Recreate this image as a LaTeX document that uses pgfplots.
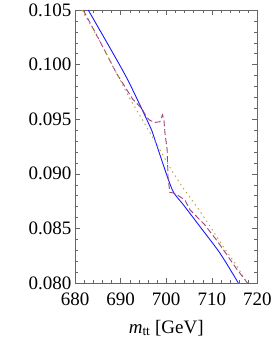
\documentclass[border=0pt]{standalone}
\usepackage{fontspec}
\setmainfont{Liberation Serif}
\usepackage{pgfplots}
\pgfplotsset{compat=1.18}
\definecolor{cblue}{rgb}{0.1,0.1,1}
\definecolor{cmag}{rgb}{0.62,0.25,0.5}
\definecolor{colive}{rgb}{0.72,0.64,0.3}
\begin{document}
\begin{tikzpicture}[x=1pt,y=1pt]
\useasboundingbox (0,0) rectangle (273,343);
\begin{axis}[at={(75pt,60pt)}, anchor=south west, scale only axis,
  width=182.5pt, height=273pt,
  xmin=680, xmax=720, ymin=0.08, ymax=0.105,
  xtick={680,690,700,710,720},
  ytick={0.08,0.085,0.09,0.095,0.1,0.105},
  minor x tick num=4, minor y tick num=4,
  tick align=inside, major tick length=5pt, minor tick length=3pt,
  axis line style={black!60}, every tick/.style={black!60},
  ticklabel style={font=\fontsize{19}{22}\selectfont},
  /pgf/number format/assume math mode=true,
  yticklabel style={/pgf/number format/.cd,fixed,fixed zerofill,precision=3},
  xticklabel style={/pgf/number format/.cd,fixed,precision=0},
  xticklabel shift=6pt,
  xlabel={\textit{m}\textsubscript{tt} [GeV]},
  xlabel style={font=\fontsize{19}{22}\selectfont, yshift=-8pt},
  clip=true,
]
% blue solid
\addplot[cblue, line width=0.9pt, smooth, tension=0.4] coordinates {
(682.9,0.1050) (691.0,0.09905) (695.7,0.0950) (696.8,0.0940) (700.1,0.0899)
(701.6,0.0883) (703.8,0.08714) (707.4,0.08516) (711.8,0.08272) (715.8,0.0800)
};
% magenta dashed
\addplot[cmag, line width=0.9pt, dash pattern=on 6pt off 3pt] coordinates {
(681.8,0.1050) (685.5,0.1021) (689.1,0.0992) (692.7,0.0968) (694.6,0.0960)
(695.7,0.0952) (696.4,0.0949) (697.5,0.0947) (698.6,0.09477) (699.2,0.0954)
(699.5,0.0949) (699.7,0.0938) (700.2,0.0922) (700.4,0.0896) (700.8,0.0883)
(701.5,0.08825) (702.3,0.0881) (704.1,0.0876) (705.2,0.0867) (708.3,0.0854) (710.9,0.0840)
(713.1,0.0827) (715.4,0.0813) (717.8,0.0800)
};
% olive dotted
\addplot[colive, line width=0.9pt, dash pattern=on 1.5pt off 3.5pt] coordinates {
(681.5,0.1050) (685.5,0.1021) (689.1,0.0992) (692.4,0.0966) (695.0,0.0948)
(698.6,0.0922) (701.2,0.0903) (703.7,0.0887) (706.7,0.0870) (709.6,0.0852)
(712.2,0.0835) (715.1,0.0818) (717.6,0.0801)
};
\end{axis}
\end{tikzpicture}
\end{document}
